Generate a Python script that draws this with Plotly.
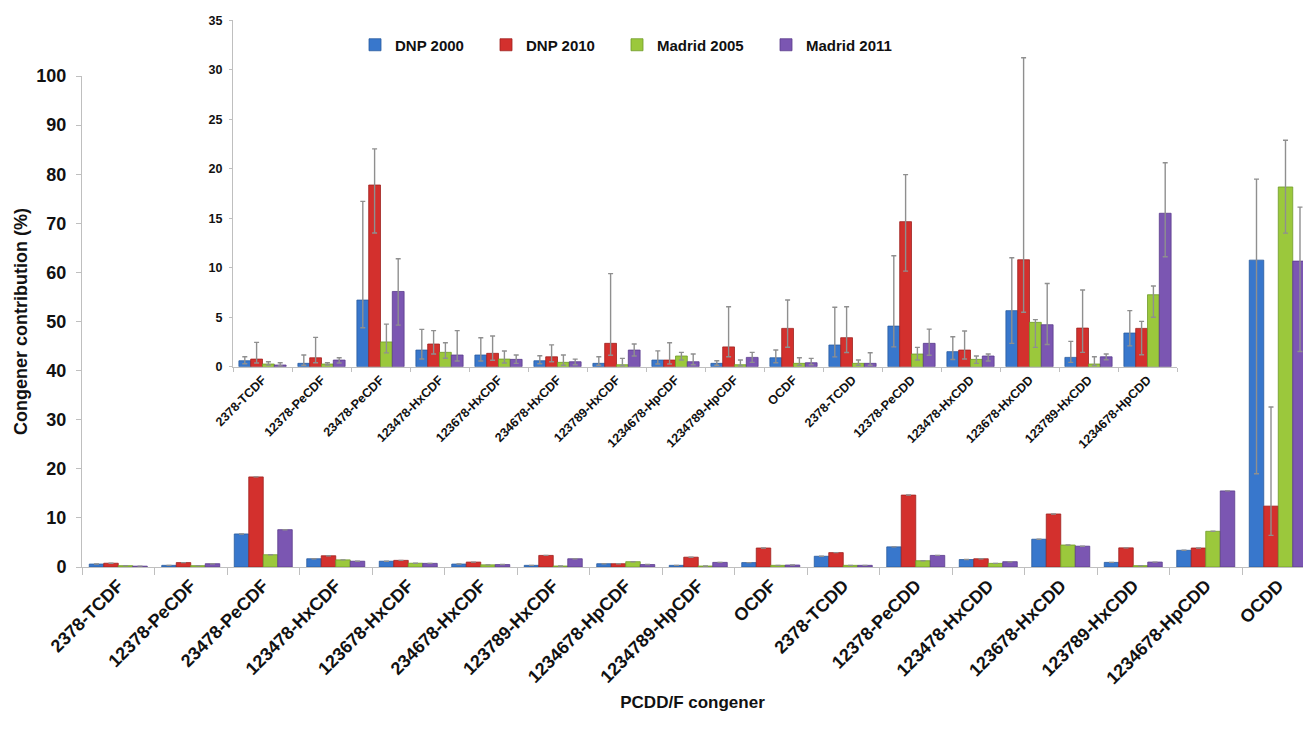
import plotly.graph_objects as go

# ---------------- data ----------------
congeners = ["2378-TCDF", "12378-PeCDF", "23478-PeCDF", "123478-HxCDF", "123678-HxCDF",
             "234678-HxCDF", "123789-HxCDF", "1234678-HpCDF", "1234789-HpCDF", "OCDF",
             "2378-TCDD", "12378-PeCDD", "123478-HxCDD", "123678-HxCDD", "123789-HxCDD",
             "1234678-HpCDD"]
last_congener = "OCDD"

series_names = ["DNP 2000", "DNP 2010", "Madrid 2005", "Madrid 2011"]
series_colors = ["#3877CC", "#D3302D", "#9BC83C", "#7B56B2"]
series_lines = ["#2A5C9E", "#9E2220", "#6E9A2A", "#5B3C8C"]

dnp2000 = [0.6, 0.34, 6.73, 1.68, 1.18, 0.6, 0.34, 0.67, 0.34, 0.9, 2.19, 4.1, 1.52, 5.66, 0.94, 3.4]
dnp2010 = [0.77, 0.9, 18.35, 2.29, 1.35, 1.0, 2.36, 0.67, 2.0, 3.87, 2.93, 14.65, 1.68, 10.8, 3.9, 3.87]
madrid2005 = [0.27, 0.27, 2.5, 1.45, 0.77, 0.44, 0.2, 1.08, 0.2, 0.34, 0.34, 1.28, 0.74, 4.48, 0.27, 7.27]
madrid2011 = [0.17, 0.67, 7.6, 1.18, 0.74, 0.5, 1.68, 0.5, 0.94, 0.4, 0.34, 2.36, 1.08, 4.24, 1.0, 15.5]

ocdd = [62.5, 12.4, 77.4, 62.3]

dnp2000_plus = [0.4, 0.84, 9.97, 2.09, 1.75, 0.5, 0.66, 0.93, 0.26, 0.78, 3.81, 7.1, 1.51, 5.34, 1.62, 2.26]
dnp2010_plus = [1.69, 2.06, 3.65, 1.35, 1.75, 1.2, 7.04, 1.75, 4.06, 2.86, 3.13, 4.75, 1.92, 20.4, 3.84, 0.71]
madrid2005_plus = [0.23, 0.13, 1.8, 0.97, 0.81, 0.74, 0.64, 0.37, 0.47, 0.56, 0.33, 0.67, 0.34, 0.27, 0.73, 0.88]
madrid2011_plus = [0.23, 0.23, 3.3, 2.46, 0.44, 0.27, 0.61, 0.78, 0.51, 0.44, 1.07, 1.44, 0.2, 4.16, 0.28, 5.1]

dnp2000_minus = [0.3, 0.2, 2.8, 0.9, 0.6, 0.3, 0.2, 0.4, 0.2, 0.5, 1.2, 2.1, 0.8, 3.3, 0.5, 1.3]
dnp2010_minus = [0.4, 0.5, 4.85, 1.0, 0.7, 0.5, 1.2, 0.4, 1.0, 1.9, 1.5, 5.0, 0.9, 5.3, 2.45, 2.67]
madrid2005_minus = [0.1, 0.1, 1.1, 0.6, 0.4, 0.3, 0.1, 0.4, 0.1, 0.2, 0.2, 0.6, 0.4, 2.53, 0.15, 2.27]
madrid2011_minus = [0.1, 0.3, 3.4, 0.6, 0.4, 0.3, 0.6, 0.3, 0.5, 0.2, 0.2, 1.2, 0.5, 2.0, 0.3, 4.4]

ocdd_plus = [16.5, 20.2, 9.5, 11.0]
ocdd_minus = [43.5, 5.95, 9.4, 18.4]

main_ticks = list(range(0, 101, 10))
inset_ticks = list(range(0, 36, 5))

# ---------------- figure ----------------
values = [dnp2000, dnp2010, madrid2005, madrid2011]
plus = [dnp2000_plus, dnp2010_plus, madrid2005_plus, madrid2011_plus]
minus = [dnp2000_minus, dnp2010_minus, madrid2005_minus, madrid2011_minus]

all_congeners = congeners + [last_congener]
FONT = "Liberation Sans, Arial, sans-serif"
ERR = dict(type="data", symmetric=False, color="#8F8F8F", thickness=1.4, width=2.5)

fig = go.Figure()
for k, name in enumerate(series_names):
    # main chart (no error bars except OCDD)
    fig.add_trace(go.Bar(
        x=all_congeners, y=values[k] + [ocdd[k]],
        marker=dict(color=series_colors[k], line=dict(color=series_lines[k], width=0.8)),
        error_y=dict(array=[None] * len(congeners) + [ocdd_plus[k]],
                     arrayminus=[None] * len(congeners) + [ocdd_minus[k]], **ERR),
        xaxis="x", yaxis="y", showlegend=False, name=name,
    ))
    # inset chart
    fig.add_trace(go.Bar(
        x=congeners, y=values[k],
        marker=dict(color=series_colors[k], line=dict(color=series_lines[k], width=0.8)),
        error_y=dict(array=plus[k], arrayminus=minus[k], **ERR),
        xaxis="x2", yaxis="y2", name=name,
        legend="legend" if k == 0 else f"legend{k + 1}",
    ))

W, H = 1303, 734
L, R, T, B = 82, 0, 10, 167
pw, ph = W - L - R, H - T - B


def px_x(p):
    return (p - L) / pw


def px_y(p):
    return (H - B - p) / ph


axis_common = dict(showline=True, linecolor="#BFBFBF", linewidth=1, showgrid=False,
                   zeroline=False, ticks="outside", tickcolor="#BFBFBF")

legend_text_x = [395, 526, 657, 806]
legends = {}
for k, tx in enumerate(legend_text_x):
    key = "legend" if k == 0 else f"legend{k + 1}"
    legends[key] = dict(x=px_x(tx - 40), y=px_y(45), xanchor="left", yanchor="middle",
                        orientation="h", bgcolor="rgba(0,0,0,0)", borderwidth=0,
                        font=dict(family=FONT, size=15, color="#111", weight="bold"))

fig.update_layout(
    width=W, height=H,
    margin=dict(l=L, r=R, t=T, b=B),
    paper_bgcolor="white", plot_bgcolor="rgba(0,0,0,0)",
    barmode="group", bargap=0.2, bargroupgap=0.0,
    font=dict(family=FONT, color="#111"),
    xaxis=dict(domain=[0, 1], type="category", range=[-0.5, -0.5 + (1303 - 82) / 72.5],
               tickson="boundaries", ticklen=7, tickangle=-45,
               tickfont=dict(family=FONT, size=18, color="#111", weight="bold"),
               title=dict(text="PCDD/F congener", standoff=8,
                          font=dict(family=FONT, size=17, color="#111", weight="bold")),
               **axis_common),
    yaxis=dict(domain=[0, px_y(76)], range=[0, 100], tickvals=main_ticks, ticklen=5,
               ticklabelstandoff=6,
               tickfont=dict(family=FONT, size=18, color="#111", weight="bold"),
               title=dict(text="Congener contribution (%)", standoff=4,
                          font=dict(family=FONT, size=18, color="#111", weight="bold")),
               **axis_common),
    xaxis2=dict(domain=[px_x(233), px_x(1177)], anchor="y2", type="category",
                range=[-0.5, 15.5], tickson="boundaries", ticklen=4, tickangle=-45,
                tickfont=dict(family=FONT, size=12.5, color="#111", weight="bold"),
                **axis_common),
    yaxis2=dict(domain=[px_y(366.7), px_y(20.2)], anchor="x2", range=[0, 35],
                tickvals=inset_ticks, ticklen=3, ticklabelstandoff=4,
                tickfont=dict(family=FONT, size=12.5, color="#111", weight="bold"),
                **axis_common),
    **legends,
)

fig.write_html("out.html")
